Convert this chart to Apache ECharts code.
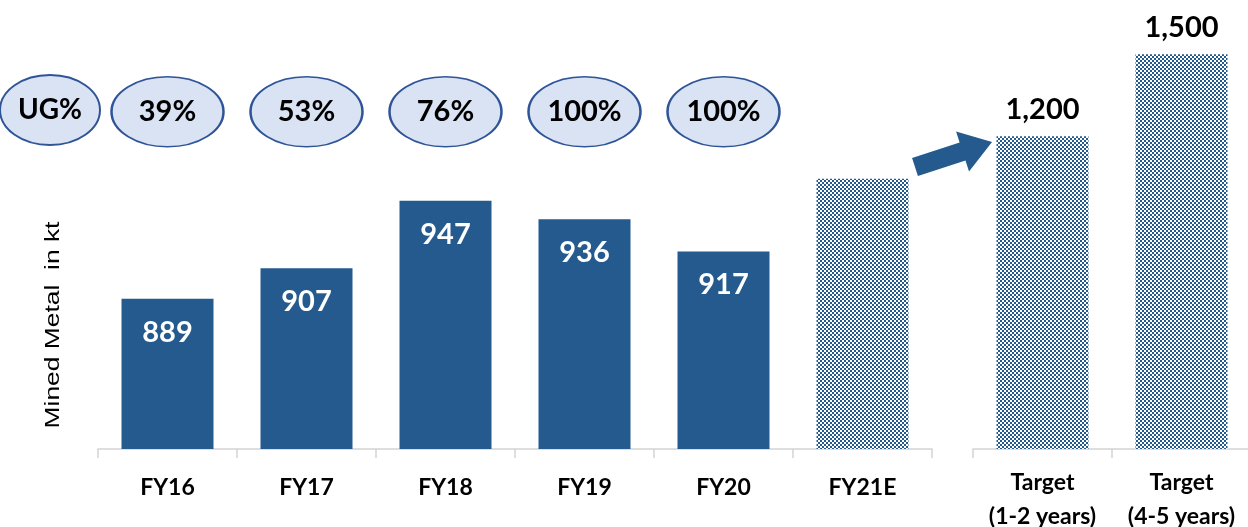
<!DOCTYPE html>
<html>
<head>
<meta charset="utf-8">
<script src="https://cdn.jsdelivr.net/npm/echarts@6/dist/echarts.min.js"></script>
<style>
  html, body { margin: 0; padding: 0; background: #fff; }
  #myCharts { width: 1248px; height: 527px; }
</style>
</head>
<body>
<div id="myCharts"></div>
<script>
// data
var years = ["FY16", "FY17", "FY18", "FY19", "FY20", "FY21E"];
var minedMetal = [889, 907, 947, 936, 917, 960]; // FY21E is an estimate, no label
var ugPct = [39, 53, 76, 100, 100];
var targets = ["Target\n(1-2 years)", "Target\n(4-5 years)"];
var targetValues = [1200, 1500];

var blue = "#255A8E";

// checker pattern for estimate / target bars
var pat = document.createElement("canvas");
pat.width = 4;
pat.height = 4;
var pctx = pat.getContext("2d");
pctx.fillStyle = "#fff";
pctx.fillRect(0, 0, 4, 4);
pctx.fillStyle = blue;
pctx.fillRect(0, 0, 2, 2);
pctx.fillRect(2, 2, 2, 2);
var patternFill = { image: pat, repeat: "repeat" };

var bigFont = { fontFamily: "Lato", fontWeight: "bold", fontSize: 29 };

var barData = minedMetal.map(function (v, i) {
    if (i === minedMetal.length - 1) {
        return { value: v, itemStyle: { color: patternFill }, label: { show: false } };
    }
    return v;
});

var ugRow = 0.786; // row height of the UG% bubbles on a hidden axis
var ugData = ugPct.map(function (v, i) {
    return [years[i], ugRow, v];
});

var axisStyle = {
    axisLine: { lineStyle: { color: "#d4d4d4", width: 1.5 } },
    axisTick: { show: true, length: 9, lineStyle: { color: "#d4d4d4", width: 1.5 } }
};
var catFont = { color: "#000", fontFamily: "Lato", fontWeight: "bold", fontSize: 23 };

var options = {
    animation: false,
    grid: [
        { left: 98, width: 834, top: 20, bottom: 78, outerBoundsMode: "none" },
        { left: 973, width: 278, top: 20, bottom: 78, outerBoundsMode: "none" }
    ],
    xAxis: [
        {
            type: "category", gridIndex: 0, data: years,
            axisLine: axisStyle.axisLine, axisTick: axisStyle.axisTick,
            axisLabel: Object.assign({ margin: 23, lineHeight: 32 }, catFont)
        },
        {
            type: "category", gridIndex: 1, data: targets,
            axisLine: axisStyle.axisLine, axisTick: axisStyle.axisTick,
            axisLabel: Object.assign({ margin: 17, lineHeight: 34, interval: 0 }, catFont)
        }
    ],
    yAxis: [
        { type: "value", gridIndex: 0, min: 800, max: 1054, show: false },
        { type: "value", gridIndex: 1, min: 55, max: 1625, show: false },
        { type: "value", gridIndex: 0, min: 0, max: 1, show: false }
    ],
    series: [
        {
            name: "Mined metal", type: "bar", xAxisIndex: 0, yAxisIndex: 0,
            barWidth: 92, data: barData,
            itemStyle: { color: blue },
            label: Object.assign({ show: true, position: "insideTop", distance: 19, color: "#fff" }, bigFont)
        },
        {
            name: "Target", type: "bar", xAxisIndex: 1, yAxisIndex: 1,
            barWidth: 92, data: targetValues,
            itemStyle: { color: patternFill },
            label: Object.assign({
                show: true, position: "top", distance: 12, color: "#000",
                formatter: function (p) { return p.value.toLocaleString("en-US"); }
            }, bigFont)
        },
        {
            name: "UG%", type: "scatter", xAxisIndex: 0, yAxisIndex: 2,
            symbol: "circle", symbolSize: [112, 70], data: ugData,
            itemStyle: { color: "#DAE3F3", borderColor: "#2F5597", borderWidth: 2, opacity: 1 },
            label: Object.assign({
                show: true, position: "inside", color: "#000",
                formatter: function (p) { return p.value[2] + "%"; }
            }, bigFont)
        }
    ],
    graphic: [
        {
            type: "ellipse", shape: { cx: 50, cy: 110, rx: 50, ry: 35 },
            style: { fill: "#DAE3F3", stroke: "#2F5597", lineWidth: 2 }
        },
        {
            type: "text", x: 50, y: 110,
            style: { text: "UG%", fill: "#000", font: "bold 28px Lato", align: "center", verticalAlign: "middle" }
        },
        {
            // arrow from FY21E to the targets
            type: "polygon", x: 915, y: 167, rotation: 0.314,
            shape: { points: [[0, -9.5], [50, -9.5], [50, -21], [81, 0], [50, 21], [50, 9.5], [0, 9.5]] },
            style: { fill: blue }
        },
        {
            type: "text", x: 53, y: 325, rotation: Math.PI / 2, scaleX: 1.32,
            style: { text: "Mined Metal  in kt", fill: "#000", font: "20px 'Liberation Sans'", align: "center", verticalAlign: "middle" }
        }
    ]
};

var myCharts = echarts.init(document.getElementById("myCharts"));
myCharts.setOption(options);
</script>
</body>
</html>
